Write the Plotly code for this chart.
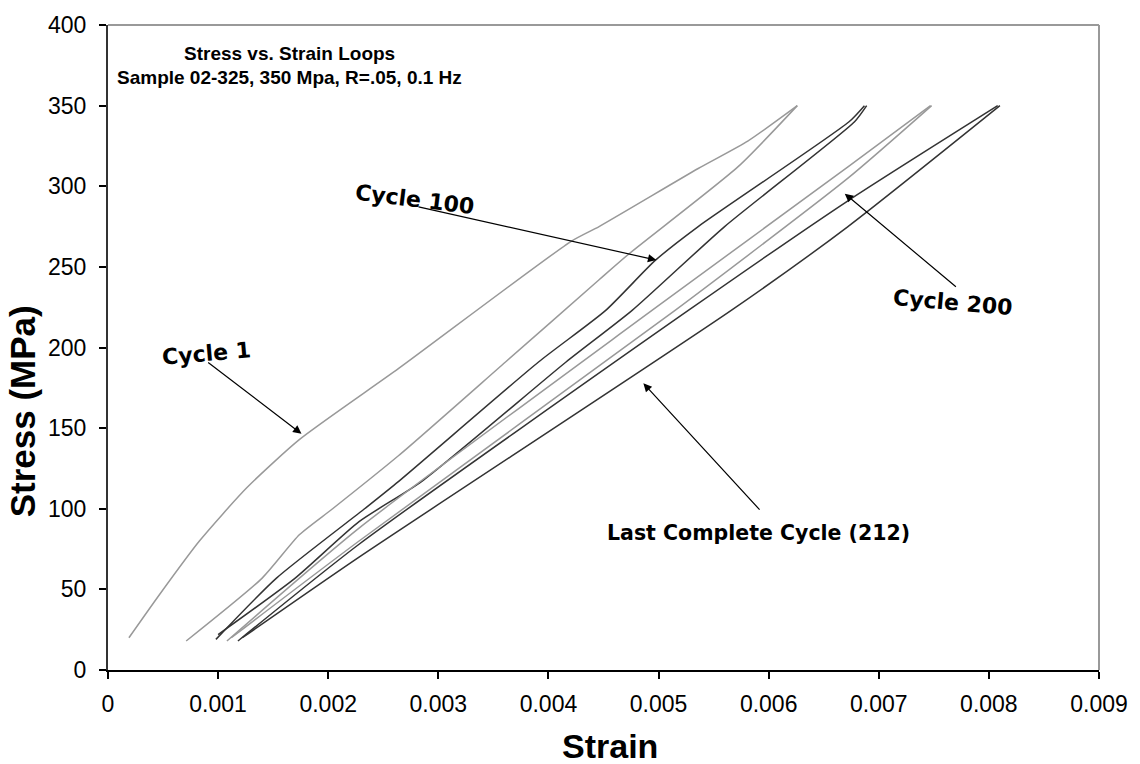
import plotly.graph_objects as go

# ---- data (strain, stress in MPa) ----
c1_load_strain = [0.00019, 0.00047, 0.00083, 0.00126, 0.00174, 0.00264, 0.00421, 0.00446, 0.00536, 0.00581, 0.00626]
c1_load_stress = [20, 47, 80, 113, 143, 187, 266, 275, 311, 328, 350]
c1_unload_strain = [0.00626, 0.00572, 0.00473, 0.00446, 0.00361, 0.00264, 0.00204, 0.00174, 0.00140, 0.00071]
c1_unload_stress = [350, 312, 258, 242, 191, 133, 100, 84, 57, 18]

c100_load_strain = [0.00098, 0.00153, 0.00233, 0.00264, 0.00391, 0.00452, 0.00497, 0.00536, 0.00673, 0.00687]
c100_load_stress = [19, 57, 100, 117, 191, 223, 254, 275, 340, 350]
c100_unload_strain = [0.00689, 0.00678, 0.00560, 0.00476, 0.00416, 0.00285, 0.00228, 0.00170, 0.00100]
c100_unload_stress = [350, 340, 275, 223, 191, 117, 92, 57, 22]

c200_load_strain = [0.00108, 0.00228, 0.00494, 0.00672, 0.00747]
c200_load_stress = [18, 88, 223, 312, 350]
c200_unload_strain = [0.00748, 0.00672, 0.00515, 0.00228, 0.00112]
c200_unload_stress = [350, 305, 223, 80, 20]

c212_load_strain = [0.00118, 0.00228, 0.00527, 0.00672, 0.00808]
c212_load_stress = [18, 78, 223, 291, 350]
c212_unload_strain = [0.00810, 0.00672, 0.00566, 0.00228, 0.00122]
c212_unload_stress = [350, 275, 223, 70, 20]

x_tick_vals = [0, 0.001, 0.002, 0.003, 0.004, 0.005, 0.006, 0.007, 0.008, 0.009]
x_tick_text = ["0", "0.001", "0.002", "0.003", "0.004", "0.005", "0.006", "0.007", "0.008", "0.009"]
y_tick_vals = [0, 50, 100, 150, 200, 250, 300, 350, 400]

labels = ["Cycle 1", "Cycle 100", "Cycle 200", "Last Complete Cycle (212)"]
label_x = [0.000896, 0.002789, 0.00767, 0.005912]
label_y = [196.3, 291.7, 227.7, 84.9]
label_angle = [-5, 7, 5, 0]
label_size = [22, 22, 22, 20.5]
arrow_tail_x = [0.000896, 0.002807, 0.007714, 0.005930]
arrow_tail_y = [191.4, 287.4, 236.9, 98.5]
arrow_head_x = [0.001757, 0.004980, 0.006691, 0.004862]
arrow_head_y = [146.5, 254.2, 295.4, 177.8]

GRAY = "#999999"
DARK = "#333333"

TOP = 20
BOTTOM = 94
PLOT_H = 764 - TOP - BOTTOM
PLOT_BOTTOM_PX = 764 - BOTTOM


def py(px):
    return (PLOT_BOTTOM_PX - px) / PLOT_H


fig = go.Figure()
branches = [
    (c1_load_strain, c1_load_stress, GRAY),
    (c1_unload_strain, c1_unload_stress, GRAY),
    (c100_load_strain, c100_load_stress, DARK),
    (c100_unload_strain, c100_unload_stress, DARK),
    (c200_load_strain, c200_load_stress, GRAY),
    (c200_unload_strain, c200_unload_stress, GRAY),
    (c212_load_strain, c212_load_stress, DARK),
    (c212_unload_strain, c212_unload_stress, DARK),
]
for xs, ys, col in branches:
    fig.add_trace(go.Scatter(x=xs, y=ys, mode="lines",
                             line=dict(color=col, width=1.5, shape="spline", smoothing=0.6),
                             showlegend=False, hoverinfo="skip"))

annotations = []
for i in range(len(labels)):
    annotations.append(dict(x=arrow_head_x[i], y=arrow_head_y[i], xref="x", yref="y",
                            ax=arrow_tail_x[i], ay=arrow_tail_y[i], axref="x", ayref="y",
                            text="", showarrow=True, arrowhead=2, arrowsize=1.4,
                            arrowwidth=1.2, arrowcolor="black"))
    annotations.append(dict(x=label_x[i], y=label_y[i], xref="x", yref="y",
                            xanchor="center", yanchor="middle",
                            text="<b>" + labels[i] + "</b>", showarrow=False,
                            textangle=label_angle[i],
                            font=dict(family="DejaVu Sans", size=label_size[i], color="black")))

annotations.append(dict(x=0.1831, y=py(49), xref="paper", yref="paper",
                        xanchor="center", yanchor="middle",
                        text="<b>Stress vs. Strain Loops</b>", showarrow=False,
                        font=dict(family="Liberation Sans, Arial", size=19, color="black")))
annotations.append(dict(x=0.1831, y=py(73), xref="paper", yref="paper",
                        xanchor="center", yanchor="middle",
                        text="<b>Sample 02-325, 350 Mpa, R=.05, 0.1 Hz</b>", showarrow=False,
                        font=dict(family="Liberation Sans, Arial", size=19, color="black")))
annotations.append(dict(x=(22 - 108) / 994, y=160.6, xref="paper", yref="y",
                        xanchor="center", yanchor="middle",
                        text="<b>Stress (MPa)</b>", showarrow=False, textangle=-90,
                        font=dict(family="Liberation Sans, Arial", size=35, color="black")))
annotations.append(dict(x=(612 - 108) / 994, y=py(747), xref="paper", yref="paper",
                        xanchor="center", yanchor="middle",
                        text="<b>Strain</b>", showarrow=False,
                        font=dict(family="Liberation Sans, Arial", size=34, color="black")))

fig.update_layout(
    width=1140, height=764,
    margin=dict(l=108, r=38, t=TOP, b=BOTTOM),
    paper_bgcolor="white", plot_bgcolor="white",
    font=dict(family="Liberation Sans, Arial", size=23, color="black"),
    annotations=annotations,
    shapes=[
        dict(type="line", xref="paper", yref="paper", x0=0, x1=1, y0=1, y1=1,
             line=dict(color=GRAY, width=2)),
        dict(type="line", xref="paper", yref="paper", x0=1, x1=1, y0=0, y1=1,
             line=dict(color=GRAY, width=2)),
    ],
    xaxis=dict(range=[0, 0.009], tickvals=x_tick_vals, ticktext=x_tick_text,
               showline=True, linecolor="black", linewidth=2,
               ticks="outside", ticklen=7, tickwidth=1.5, tickcolor="black",
               showgrid=False, zeroline=False, ticklabelstandoff=5),
    yaxis=dict(range=[0, 400], tickvals=y_tick_vals,
               showline=True, linecolor="#333333", linewidth=2,
               ticks="outside", ticklen=7, tickwidth=1.5, tickcolor="black",
               showgrid=False, zeroline=False, ticklabelstandoff=8),
)

fig.write_html("out.html")
